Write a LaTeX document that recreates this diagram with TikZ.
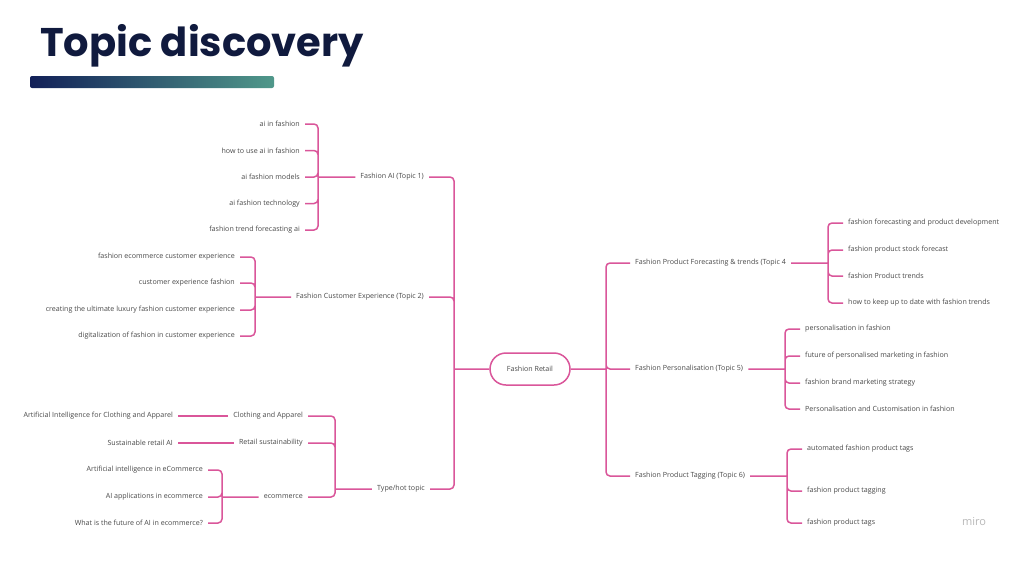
\documentclass[tikz,border=0pt]{standalone}
\usepackage{fontspec}
\setmainfont{Open Sans}
\newfontfamily\titlefont{Poppins}
\definecolor{pinkline}{RGB}{218,86,154}
\definecolor{labgrey}{RGB}{72,72,72}
\definecolor{titlenavy}{RGB}{16,26,62}
\definecolor{barnavy}{RGB}{18,32,88}
\definecolor{barteal}{RGB}{80,152,138}
\begin{document}
\begin{tikzpicture}[x=1pt,y=-1pt,
  link/.style={draw=pinkline,line width=1.5pt,rounded corners=4pt},
  lab/.style={font=\fontsize{7.1}{8}\selectfont,text=labgrey,inner xsep=5pt,inner ysep=1pt}]
  \useasboundingbox[fill=white] (0,0) rectangle (1024,560);
  % title and bar
  \node[anchor=base west,inner sep=0,text=titlenavy,font=\titlefont\bfseries\fontsize{40}{44}\selectfont]
    (title) at (40,56) {Topic discovery};
  \shade[left color=barnavy,right color=barteal,rounded corners=2pt] (30,76) rectangle (274,88);
  % root
  \node[lab,draw=pinkline,line width=1.5pt,rounded corners=16pt,minimum width=80pt,
    minimum height=32pt] (root) at (530,369) {Fashion Retail};
  \coordinate (lt) at (454,369);
  \coordinate (rt) at (606,369);
  % left topics
  \node[lab,anchor=east] (t1) at (429,177) {Fashion AI (Topic 1)};
  \node[lab,anchor=east] (t2) at (429,297) {Fashion Customer Experience (Topic 2)};
  \node[lab,anchor=east] (t3) at (430,489) {Type/hot topic};
  \draw[link] (root.west) -- (lt) \foreach \n in {t1,t2,t3} {(lt) |- (\n.east)};
  % topic 1
  \coordinate (s1) at (318,177);
  \foreach \y/\t [count=\i] in {124/ai in fashion,150.5/how to use ai in fashion,
    177/ai fashion models,203.5/ai fashion technology,230/fashion trend forecasting ai}
    \node[lab,anchor=east] (a\i) at (305,\y) {\t};
  \draw[link] (t1.west) -- (s1) \foreach \i in {1,...,5} {(s1) |- (a\i.east)};
  % topic 2
  \coordinate (s2) at (255,297);
  \foreach \y/\t [count=\i] in {257/fashion ecommerce customer experience,
    283/customer experience fashion,
    310/creating the ultimate luxury fashion customer experience,
    336/digitalization of fashion in customer experience}
    \node[lab,anchor=east] (b\i) at (240,\y) {\t};
  \draw[link] (t2.west) -- (s2) \foreach \i in {1,...,4} {(s2) |- (b\i.east)};
  % topic 3
  \coordinate (s3) at (335,489);
  \node[lab,anchor=east] (c1) at (308,416) {Clothing and Apparel};
  \node[lab,anchor=east] (c2) at (308,443) {Retail sustainability};
  \node[lab,anchor=east] (c3) at (308,497) {ecommerce};
  \draw[link] (t3.west) -- (s3) \foreach \n in {c1,c2,c3} {(s3) |- (\n.east)};
  \node[lab,anchor=east] (c11) at (178,416) {Artificial Intelligence for Clothing and Apparel};
  \node[lab,anchor=east] (c21) at (178,443) {Sustainable retail AI};
  \draw[link] (c1.west) -- (c11.east);
  \draw[link] (c2.west) -- (c21.east);
  \coordinate (s33) at (222,497);
  \foreach \y/\t [count=\i] in {470/Artificial intelligence in eCommerce,
    497/AI applications in ecommerce,523/What is the future of AI in ecommerce?}
    \node[lab,anchor=east] (e\i) at (208,\y) {\t};
  \draw[link] (c3.west) -- (s33) \foreach \i in {1,2,3} {(s33) |- (e\i.east)};
  % right topics
  \node[lab,anchor=west] (t4) at (630,263) {Fashion Product Forecasting \& trends (Topic 4};
  \node[lab,anchor=west] (t5) at (630,369) {Fashion Personalisation (Topic 5)};
  \node[lab,anchor=west] (t6) at (630,476) {Fashion Product Tagging (Topic 6)};
  \draw[link] (root.east) -- (rt) \foreach \n in {t4,t5,t6} {(rt) |- (\n.west)};
  % topic 4
  \coordinate (s4) at (828,263);
  \foreach \y/\t [count=\i] in {223/fashion forecasting and product development,
    250/fashion product stock forecast,276/fashion Product trends,
    303/how to keep up to date with fashion trends}
    \node[lab,anchor=west] (f\i) at (843,\y) {\t};
  \draw[link] (t4.east) -- (s4) \foreach \i in {1,...,4} {(s4) |- (f\i.west)};
  % topic 5
  \coordinate (s5) at (785,369);
  \foreach \y/\t [count=\i] in {329/personalisation in fashion,
    356/future of personalised marketing in fashion,383/fashion brand marketing strategy,
    409/Personalisation and Customisation in fashion}
    \node[lab,anchor=west] (g\i) at (800,\y) {\t};
  \draw[link] (t5.east) -- (s5) \foreach \i in {1,...,4} {(s5) |- (g\i.west)};
  % topic 6
  \coordinate (s6) at (787,476);
  \foreach \y/\t [count=\i] in {449/automated fashion product tags,
    491/fashion product tagging,523/fashion product tags}
    \node[lab,anchor=west] (h\i) at (802,\y) {\t};
  \draw[link] (t6.east) -- (s6) \foreach \i in {1,2,3} {(s6) |- (h\i.west)};
  % logo
  \node[text=black!28,font=\fontsize{11}{12}\selectfont] (logo) at (974,522) {miro};
\end{tikzpicture}
\end{document}
